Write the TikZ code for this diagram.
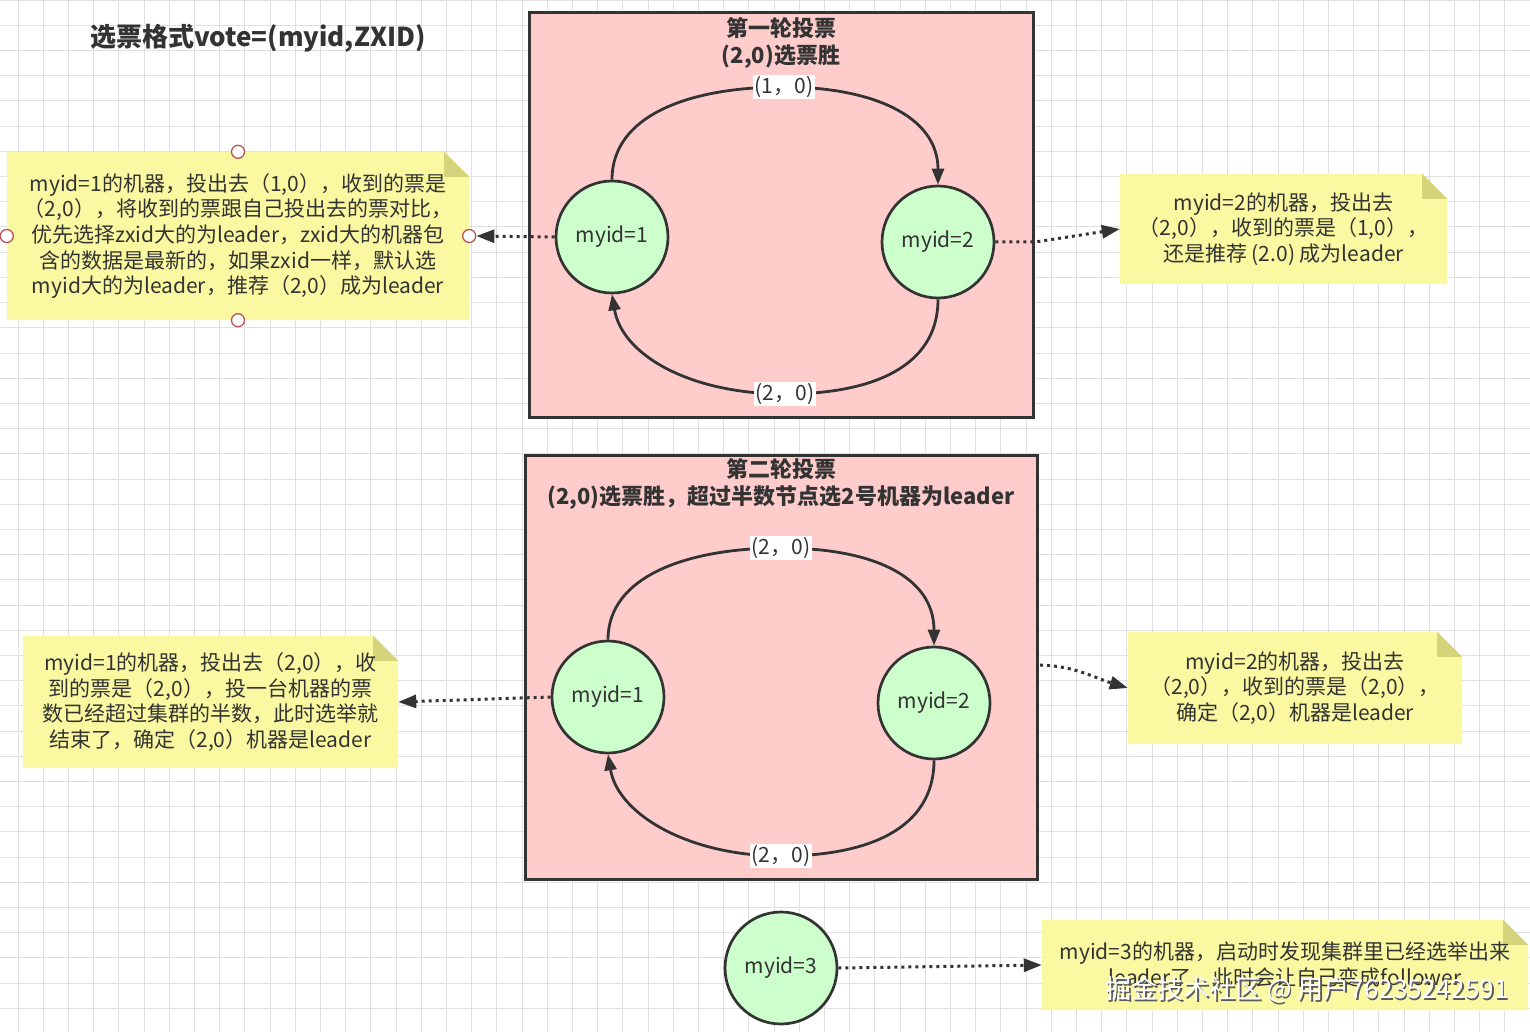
\documentclass[tikz,border=0pt]{standalone}
\usepackage{fontspec}
\setmainfont{Noto Sans CJK SC}
\usetikzlibrary{arrows.meta,backgrounds}
\definecolor{pinkf}{RGB}{255,204,204}
\definecolor{greenf}{RGB}{204,255,204}
\definecolor{notef}{RGB}{250,248,160}
\definecolor{foldf}{RGB}{214,212,122}
\definecolor{ink}{RGB}{51,51,51}
\definecolor{gridc}{RGB}{224,224,224}
\definecolor{handle}{RGB}{184,84,84}
\begin{document}
\begin{tikzpicture}[x=1pt,y=-1pt,
 stage/.style={draw=ink,line width=3pt,fill=pinkf,inner sep=0pt},
 ttl/.style={font=\fontsize{22}{27}\selectfont\bfseries,text=ink,align=center,inner sep=0pt},
 circ/.style={circle,draw=ink,line width=2.7pt,fill=greenf,minimum size=112pt,inner sep=0pt,font=\fontsize{21}{25}\selectfont,text=ink},
 lbl/.style={fill=white,inner sep=1.5pt,font=\fontsize{21}{25}\selectfont,text=ink},
 flow/.style={draw=ink,line width=2.8pt,-{Triangle[length=16pt,width=12pt]}},
 dotarrow/.style={draw=ink,line width=3pt,dash pattern=on 3pt off 4pt,-{Triangle[length=18pt,width=13pt]}},
 notebox/.style={inner sep=0pt,align=center,font=\fontsize{21}{25.7}\selectfont,text=ink},
 hdl/.style={circle,draw=handle,fill=white,line width=1.3pt,minimum size=13pt,inner sep=0pt},
 gridl/.style={draw=gridc,line width=1pt},
 wmk/.style={font=\fontsize{26}{30}\selectfont,inner sep=0pt},
]
\useasboundingbox (0,0) rectangle (1530,1032);
\begin{scope}[on background layer]
 \fill[white] (0,0) rectangle (1530,1032);
 \foreach \i in {0,...,60} {\draw[gridl] ({18.1+25.2*\i},0) -- ({18.1+25.2*\i},1032);}
 \foreach \i in {0,...,41} {\draw[gridl] (0,{0.2+25.2*\i}) -- (1530,{0.2+25.2*\i});}
\end{scope}

% title
\node[font=\fontsize{26}{30}\selectfont\bfseries,text=ink,inner sep=0pt] (head) at (258,38) {选票格式vote=(myid,ZXID)};

% round 1
\node[stage,minimum width=504pt,minimum height=404pt] (b1) at (781,215) {};
\node[ttl] (t1) at (781,42.5) {第一轮投票\\(2,0)选票胜};
\node[circ] (c1) at (612,237) {myid=1};
\node[circ] (c2) at (938,242) {myid=2};
\coordinate (m1) at (784,87);
\coordinate (m2) at (785,394);
\draw[flow] (c1.north) .. controls (612,115) and (690,87) .. (m1) .. controls (870,87) and (938,115) .. (c2.north);
\draw[flow] (c2.south) .. controls (938,368) and (870,394) .. (m2) .. controls (690,394) and (622,355) .. (c1.south);
\node[lbl] (l1) at (m1) {(1，0)};
\node[lbl] (l2) at (m2) {(2，0)};

% round 2
\node[stage,minimum width=512pt,minimum height=424pt] (b2) at (781,667) {};
\node[ttl] (t2) at (781,483.5) {第二轮投票\\(2,0)选票胜，超过半数节点选2号机器为leader};
\node[circ] (c1b) at (608,697) {myid=1};
\node[circ] (c2b) at (934,703) {myid=2};
\coordinate (m3) at (781,548);
\coordinate (m4) at (781,856);
\draw[flow] (c1b.north) .. controls (608,575) and (690,548) .. (m3) .. controls (870,548) and (934,575) .. (c2b.north);
\draw[flow] (c2b.south) .. controls (934,830) and (866,856) .. (m4) .. controls (690,856) and (618,815) .. (c1b.south);
\node[lbl] (l3) at (m3) {(2，0)};
\node[lbl] (l4) at (m4) {(2，0)};

% machine 3
\node[circ] (c3) at (781,968) {myid=3};

% notes
\node[notebox,minimum width=462pt,minimum height=168pt] (nt1) at (238,236) {myid=1的机器，投出去（1,0），收到的票是\\（2,0），将收到的票跟自己投出去的票对比，\\优先选择zxid大的为leader，zxid大的机器包\\含的数据是最新的，如果zxid一样，默认选\\myid大的为leader，推荐（2,0）成为leader};
\node[notebox,minimum width=327pt,minimum height=110pt] (nt2) at (1283.5,229) {myid=2的机器，投出去\\（2,0），收到的票是（1,0），\\还是推荐 (2.0) 成为leader};
\node[notebox,minimum width=375pt,minimum height=132pt] (nt3) at (210.5,702) {myid=1的机器，投出去（2,0），收\\到的票是（2,0），投一台机器的票\\数已经超过集群的半数，此时选举就\\结束了，确定（2,0）机器是leader};
\node[notebox,minimum width=334pt,minimum height=112pt] (nt4) at (1295,688) {myid=2的机器，投出去\\（2,0），收到的票是（2,0），\\确定（2,0）机器是leader};
\node[notebox,minimum width=486pt,minimum height=90pt] (nt5) at (1285,965) {myid=3的机器，启动时发现集群里已经选举出来\\leader了，此时会让自己变成follower};

\begin{scope}[on background layer]
 \foreach \n in {nt1,nt2,nt3,nt4,nt5} {
  \fill[notef] (\n.south west) -- (\n.north west) -- ([xshift=-25pt]\n.north east) -- ([yshift=-25pt]\n.north east) -- (\n.south east) -- cycle;
  \fill[foldf] ([xshift=-25pt]\n.north east) -- ([xshift=-25pt,yshift=-25pt]\n.north east) -- ([yshift=-25pt]\n.north east) -- cycle;
 }
\end{scope}

% selection handles
\node[hdl] (h1) at (nt1.north) {};
\node[hdl] (h2) at (nt1.south) {};
\node[hdl] (h3) at (nt1.west) {};
\node[hdl] (h4) at (nt1.east) {};

% dotted connectors
\draw[dotarrow] (c1.west) -- (h4.east);
\draw[dotarrow] (c2.east) -- ++(40,0) -- (nt2.west);
\draw[dotarrow] (c1b.west) -- (nt3.east);
\coordinate (s4) at (1040,665);
\draw[dotarrow] (s4) .. controls (1075,666) and (1095,678) .. (nt4.west);
\draw[dotarrow] (c3.east) -- (nt5.west);

% watermark
\node[wmk,text=ink!80] (wms) at (1308.5,991.5) {掘金技术社区 @ 用户76235242591};
\node[wmk,text=white] (wm) at (1307,990) {掘金技术社区 @ 用户76235242591};
\end{tikzpicture}
\end{document}
